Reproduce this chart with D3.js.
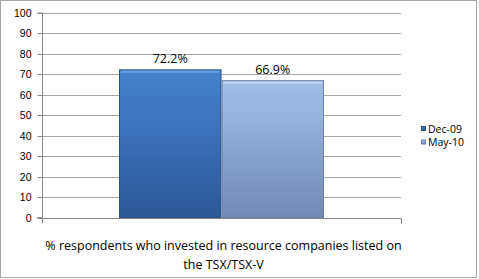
<!DOCTYPE html>
<html>
<head>
<meta charset="utf-8">
<script src="https://cdn.jsdelivr.net/npm/d3@7"></script>
<style>
  body { margin: 0; background: #fff; }
  svg { display: block; }
</style>
</head>
<body>
<svg width="479" height="279"></svg>
<script>
let categories = ['% respondents who invested in resource companies listed on the TSX/TSX-V'];
let series = ['Dec-09', 'May-10'];
let values = [72.2, 66.9];
let yTicks = [0, 10, 20, 30, 40, 50, 60, 70, 80, 90, 100];

let svg = d3.select('svg');
let plotLeft = 42, plotRight = 401, plotTop = 13, plotBottom = 217.5;

// chart frame
svg.append('rect')
	.attr('x', 0.5).attr('y', 0.5)
	.attr('width', 476).attr('height', 277)
	.attr('fill', '#fff').attr('stroke', '#a6a6a6');

let y = d3.scaleLinear().domain([0, 100]).range([plotBottom, plotTop]);
let x = d3.scaleBand().domain(categories).range([plotLeft, plotRight]).paddingInner(0).paddingOuter(0.3756);
let xs = d3.scaleBand().domain(series).range([0, x.bandwidth()]);

// gradients
let defs = svg.append('defs');
let grads = [
	{id: 'g0', stops: ['#4682cd', '#3a70b9', '#2b5896']},
	{id: 'g1', stops: ['#a2bfea', '#8ca7d5', '#7489b2']}
];
grads.forEach(g => {
	let lg = defs.append('linearGradient').attr('id', g.id)
		.attr('x1', 0).attr('y1', 0).attr('x2', 0).attr('y2', 1);
	lg.append('stop').attr('offset', '0%').attr('stop-color', g.stops[0]);
	lg.append('stop').attr('offset', '45%').attr('stop-color', g.stops[1]);
	lg.append('stop').attr('offset', '100%').attr('stop-color', g.stops[2]);
});
let borders = ['#2b5185', '#6c80a6'];
let highlights = ['#6a9ee0', '#c3d6f3'];

// gridlines
svg.append('g')
	.selectAll('line')
	.data(yTicks.filter(d => d > 0))
	.join('line')
	.attr('x1', plotLeft).attr('x2', plotRight)
	.attr('y1', d => Math.round(y(d)) + 0.5).attr('y2', d => Math.round(y(d)) + 0.5)
	.attr('stroke', '#a6a6a6');

// y axis
let yAxis = svg.append('g')
	.attr('transform', `translate(${plotLeft + 0.5},0)`)
	.call(d3.axisLeft(y).tickValues(yTicks).tickSize(5).tickPadding(6)
		.tickFormat(d3.format('d')).offset(0));
yAxis.select('.domain').attr('stroke', '#868686');
yAxis.selectAll('.tick line').attr('stroke', '#868686');
yAxis.selectAll('.tick').attr('transform', d => `translate(0,${Math.round(y(d)) + 0.5})`);
yAxis.selectAll('text')
	.attr('font-family', 'Liberation Sans, Arial, sans-serif')
	.attr('font-size', 10.5).attr('fill', '#000');

// x axis
let xAxis = svg.append('g').attr('transform', `translate(0,${Math.round(plotBottom) + 0.5})`);
xAxis.append('line').attr('x1', plotLeft).attr('x2', plotRight + 0.5).attr('stroke', '#868686');
[plotLeft + 0.5, plotRight + 0.5].forEach(px => {
	xAxis.append('line').attr('x1', px).attr('x2', px).attr('y1', 0).attr('y2', 5).attr('stroke', '#868686');
});

// bars
let g = svg.append('g').attr('transform', `translate(${x(categories[0])},0)`);
let bars = g.selectAll('g.bar')
	.data(values.map((v, i) => ({v, i, s: series[i]})))
	.join('g').attr('class', 'bar');
bars.append('rect')
	.attr('x', d => xs(d.s) + 0.5)
	.attr('y', d => y(d.v))
	.attr('width', xs.bandwidth() - 1)
	.attr('height', d => plotBottom - y(d.v))
	.attr('fill', d => `url(#g${d.i})`)
	.attr('stroke', d => borders[d.i]);
bars.append('line')
	.attr('x1', d => xs(d.s) + 2)
	.attr('x2', d => xs(d.s) + xs.bandwidth() - 2)
	.attr('y1', d => y(d.v) + 2).attr('y2', d => y(d.v) + 2)
	.attr('stroke', d => highlights[d.i]).attr('stroke-width', 2);
bars.append('text')
	.attr('x', d => xs(d.s) + xs.bandwidth() / 2)
	.attr('y', d => y(d.v) - 7)
	.attr('text-anchor', 'middle')
	.attr('font-family', 'Open Sans, sans-serif')
	.attr('font-size', 12.5)
	.text(d => d.v.toFixed(1) + '%');

// category label
let lines = ['% respondents who invested in resource companies listed on', 'the TSX/TSX-V'];
svg.append('text')
	.attr('text-anchor', 'middle')
	.attr('font-family', 'Open Sans, sans-serif')
	.attr('font-size', 12.5)
	.selectAll('tspan')
	.data(lines)
	.join('tspan')
	.attr('x', x(categories[0]) + x.bandwidth() / 2 + 2)
	.attr('y', (d, i) => 250 + i * 18.5)
	.text(d => d);

// legend
let legend = svg.append('g').attr('transform', 'translate(421,129)');
let items = legend.selectAll('g').data(series).join('g')
	.attr('transform', (d, i) => `translate(0,${i * 13.5})`);
items.append('rect')
	.attr('x', 0.5).attr('y', -2.5).attr('width', 4).attr('height', 4)
	.attr('fill', (d, i) => `url(#g${i})`)
	.attr('stroke', (d, i) => borders[i]);
items.append('text')
	.attr('x', 7).attr('y', 0).attr('dy', '0.35em')
	.attr('font-family', 'Open Sans, sans-serif')
	.attr('font-size', 10.5)
	.text(d => d);
</script>
</body>
</html>
